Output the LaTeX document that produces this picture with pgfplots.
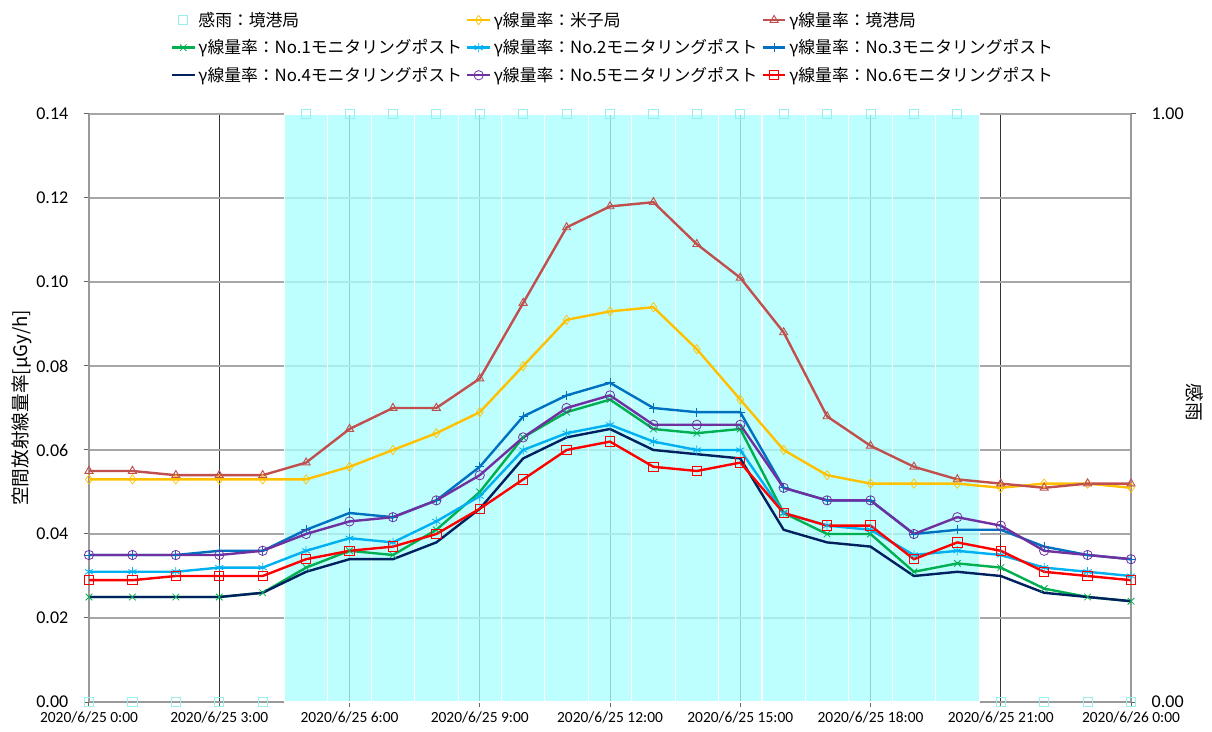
\documentclass[border=0pt]{standalone}
\usepackage{fontspec}
\setmainfont{Carlito}
\newfontfamily\jp{Noto Sans CJK JP}
\usepackage{pgfplots}
\usepackage{pgfplotstable}
\pgfplotsset{compat=1.18}
\definecolor{csak}{HTML}{C0504D}
\definecolor{cyon}{HTML}{FFC000}
\definecolor{cp1}{HTML}{00B050}
\definecolor{cp2}{HTML}{00B0F0}
\definecolor{cp3}{HTML}{0070C0}
\definecolor{cp4}{HTML}{002060}
\definecolor{cp5}{HTML}{7030A0}
\definecolor{cp6}{HTML}{FF0000}
\definecolor{crain}{HTML}{ABFFFF}
\definecolor{crainm}{HTML}{96F0F0}
\pgfplotstableread{
h rain yon sak p1 p2 p3 p4 p5 p6
0 0 0.053 0.055 0.025 0.031 0.035 0.025 0.035 0.029
1 0 0.053 0.055 0.025 0.031 0.035 0.025 0.035 0.029
2 0 0.053 0.054 0.025 0.031 0.035 0.025 0.035 0.030
3 0 0.053 0.054 0.025 0.032 0.036 0.025 0.035 0.030
4 0 0.053 0.054 0.026 0.032 0.036 0.026 0.036 0.030
5 1 0.053 0.057 0.032 0.036 0.041 0.031 0.040 0.034
6 1 0.056 0.065 0.036 0.039 0.045 0.034 0.043 0.036
7 1 0.060 0.070 0.035 0.038 0.044 0.034 0.044 0.037
8 1 0.064 0.070 0.041 0.043 0.048 0.038 0.048 0.040
9 1 0.069 0.077 0.050 0.049 0.056 0.046 0.054 0.046
10 1 0.080 0.095 0.063 0.060 0.068 0.058 0.063 0.053
11 1 0.091 0.113 0.069 0.064 0.073 0.063 0.070 0.060
12 1 0.093 0.118 0.072 0.066 0.076 0.065 0.073 0.062
13 1 0.094 0.119 0.065 0.062 0.070 0.060 0.066 0.056
14 1 0.084 0.109 0.064 0.060 0.069 0.059 0.066 0.055
15 1 0.072 0.101 0.065 0.060 0.069 0.058 0.066 0.057
16 1 0.060 0.088 0.045 0.045 0.051 0.041 0.051 0.045
17 1 0.054 0.068 0.040 0.042 0.048 0.038 0.048 0.042
18 1 0.052 0.061 0.040 0.041 0.048 0.037 0.048 0.042
19 1 0.052 0.056 0.031 0.035 0.040 0.030 0.040 0.034
20 1 0.052 0.053 0.033 0.036 0.041 0.031 0.044 0.038
21 0 0.051 0.052 0.032 0.035 0.041 0.030 0.042 0.036
22 0 0.052 0.051 0.027 0.032 0.037 0.026 0.036 0.031
23 0 0.052 0.052 0.025 0.031 0.035 0.025 0.035 0.030
24 0 0.051 0.052 0.024 0.030 0.034 0.024 0.034 0.029
}\data
\pgfplotstableread{
h rain
5 1
6 1
7 1
8 1
9 1
10 1
11 1
12 1
13 1
14 1
15 1
16 1
17 1
18 1
19 1
20 1
}\raindata
\begin{document}
\begin{tikzpicture}
\useasboundingbox (-66.75pt,-21.75pt) rectangle (842.25pt,526.5pt);
\pgfplotsset{every axis/.append style={scale only axis, width=781.5pt, height=441pt, xmin=0, xmax=24, at={(0,0)}, anchor=south west}}
% axis 1: grid, ticks, labels
\begin{axis}[
  ymin=0, ymax=0.14,
  axis x line*=bottom, axis y line*=left,
  axis line style={black!40, line width=1pt},
  xtick={0,3,...,24},
  xticklabels={2020/6/25 0:00,2020/6/25 3:00,2020/6/25 6:00,2020/6/25 9:00,2020/6/25 12:00,2020/6/25 15:00,2020/6/25 18:00,2020/6/25 21:00,2020/6/26 0:00},
  ytick={0,0.02,...,0.141},
  yticklabel style={/pgf/number format/fixed, /pgf/number format/fixed zerofill, /pgf/number format/precision=2, /pgf/number format/assume math mode=true, font=\fontsize{13.5}{15}\selectfont, xshift=-8pt},
  xticklabel style={font=\fontsize{11.6}{13}\selectfont},
  scaled y ticks=false,
  tick align=outside, major tick length=4pt,
  tick style={black!60, line width=0.75pt},
  xmajorgrids, ymajorgrids,
  x grid style={black!80, line width=0.75pt},
  y grid style={black!35, line width=0.9pt},
  ylabel={\jp 空間放射線量率[μGy/h]},
  ylabel style={font=\fontsize{14}{16}\selectfont, at={(axis description cs:-0.064,0.5)}, anchor=center},
]
\end{axis}
% axis 2: rain
\begin{axis}[
  ymin=0, ymax=1,
  axis x line=none, axis y line*=right,
  axis line style={black!40, line width=1pt},
  ytick={0,1},
  yticklabel style={/pgf/number format/fixed, /pgf/number format/fixed zerofill, /pgf/number format/precision=2, /pgf/number format/assume math mode=true, font=\fontsize{13.5}{15}\selectfont, xshift=8pt},
  tick align=outside, major tick length=4pt,
  tick style={black!60, line width=0.75pt},
  ylabel={\jp 感雨},
  ylabel style={font=\fontsize{14}{16}\selectfont, rotate=180, at={(axis description cs:1.0614,0.51)}, anchor=center},
  clip=false,
]
\addplot[ybar, bar width=1, bar shift=0pt, fill=crain, fill opacity=0.78, draw=white, line width=0.8pt] table[x=h, y=rain] {\raindata};
\addplot[only marks, mark=square, mark size=3.4pt, color=crainm, line width=0.6pt] table[x=h, y=rain] {\data};
\end{axis}
% axis 3: lines
\begin{axis}[
  ymin=0, ymax=0.14, hide axis,
  clip=false,
  legend columns=3,
  legend cell align=left,
  legend style={draw=none, fill=none, at={(0.503,1.183)}, anchor=north, font=\jp\fontsize{12.6}{14}\selectfont, row sep=4.5pt, /tikz/every even column/.append style={column sep=1pt}},
  every axis plot/.append style={line width=1.8pt, mark size=3.5pt},
]
\addlegendimage{only marks, mark=square, mark size=3.4pt, color=crainm, line width=0.6pt}
\addlegendentry{感雨：境港局}
\addplot[color=cyon, mark=diamond, mark options={solid, line width=0.5pt, fill=none}] table[x=h, y=yon] {\data};
\addlegendentry{γ線量率：米子局}
\addplot[color=csak, mark=triangle, mark options={solid, line width=0.7pt, fill=none}] table[x=h, y=sak] {\data};
\addlegendentry{γ線量率：境港局}
\addplot[color=cp1, mark=x, mark options={solid, line width=0.6pt}] table[x=h, y=p1] {\data};
\addlegendentry{γ線量率：No.1モニタリングポスト}
\addplot[color=cp2, mark=asterisk, mark options={solid, line width=0.6pt}] table[x=h, y=p2] {\data};
\addlegendentry{γ線量率：No.2モニタリングポスト}
\addplot[color=cp3, mark=+, mark options={solid, line width=0.7pt}] table[x=h, y=p3] {\data};
\addlegendentry{γ線量率：No.3モニタリングポスト}
\addplot[color=cp4, no marks] table[x=h, y=p4] {\data};
\addlegendentry{γ線量率：No.4モニタリングポスト}
\addplot[color=cp5, mark=o, mark options={solid, line width=0.6pt, fill=none}] table[x=h, y=p5] {\data};
\addlegendentry{γ線量率：No.5モニタリングポスト}
\addplot[color=cp6, mark=square, mark options={solid, line width=0.7pt, fill=none}] table[x=h, y=p6] {\data};
\addlegendentry{γ線量率：No.6モニタリングポスト}
\end{axis}
\end{tikzpicture}
\end{document}
